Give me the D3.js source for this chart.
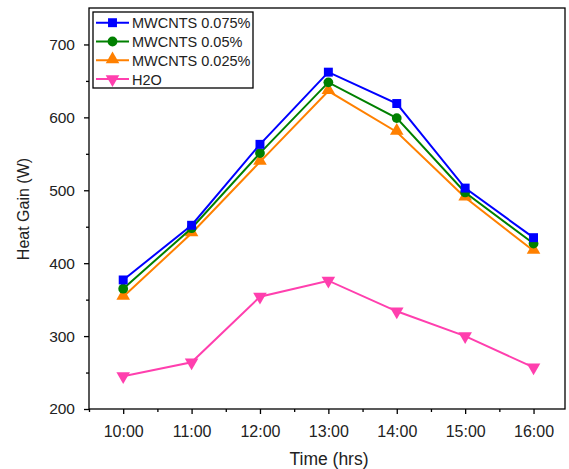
<!DOCTYPE html>
<html>
<head>
<meta charset="utf-8">
<script src="https://cdn.jsdelivr.net/npm/d3@7"></script>
<style>
	body { margin: 0; background: #fff; }
	text { font-family: Arial, "Liberation Sans", sans-serif; fill: #222; }
</style>
</head>
<body>
<div id="chart"></div>
<script>
var hours = [10, 11, 12, 13, 14, 15, 16];
var hourLabels = ["10:00", "11:00", "12:00", "13:00", "14:00", "15:00", "16:00"];
var yTicks = [200, 300, 400, 500, 600, 700];

var mw075 = [377, 452, 563, 662, 619, 503, 435];
var mw05 = [365, 448, 551, 648, 599, 497, 427];
var mw025 = [354, 441, 539, 636, 580, 490, 417];
var h2o = [245, 264, 354, 376, 334, 300, 257];

var seriesNames = ["MWCNTS 0.075%", "MWCNTS 0.05%", "MWCNTS 0.025%", "H2O"];
var seriesColors = ["#0000ff", "#008000", "#ff8000", "#ff3fae"];
var seriesValues = [mw075, mw05, mw025, h2o];

var W = 569, H = 469;
var plot = {left: 89, right: 565, top: 8, bottom: 409};

var svg = d3.select("#chart").append("svg")
	.attr("width", W)
	.attr("height", H);

var x = d3.scaleLinear().domain([9.5, 16.46]).range([plot.left, plot.right]);
var y = d3.scaleLinear().domain([200, 750]).range([plot.bottom, plot.top]);

// markers
var symbols = [
	d3.symbol().type(d3.symbolSquare).size(80),
	d3.symbol().type(d3.symbolCircle).size(75),
	d3.symbol().type(d3.symbolTriangle).size(80),
	d3.symbol().type(d3.symbolTriangle).size(80)
];
function markerTransform(i, px, py) {
	if (i == 3) return "translate(" + px + "," + py + ") rotate(180)";
	if (i == 2) return "translate(" + px + "," + (py - 1) + ")";
	return "translate(" + px + "," + py + ")";
}

var line = d3.line()
	.x(function(d, i) { return x(hours[i]); })
	.y(function(d) { return y(d); });

// draw series, bottom one first
for (var s = seriesValues.length - 1; s >= 0; s--) {
	svg.append("path")
	.datum(seriesValues[s])
	.attr("fill", "none")
	.attr("stroke", seriesColors[s])
	.attr("stroke-width", 2)
	.attr("d", line);

	(function(s) {
		svg.append("g").selectAll("path")
		.data(seriesValues[s])
		.enter().append("path")
		.attr("d", symbols[s])
		.attr("fill", seriesColors[s])
		.attr("transform", function(d, i) { return markerTransform(s, x(hours[i]), y(d)); });
	})(s);
}

// frame
svg.append("rect")
	.attr("x", plot.left).attr("y", plot.top)
	.attr("width", plot.right - plot.left).attr("height", plot.bottom - plot.top)
	.attr("fill", "none")
	.attr("stroke", "#000")
	.attr("stroke-width", 1.3);

// x axis
var xAxis = svg.append("g")
	.attr("transform", "translate(0," + plot.bottom + ")")
	.call(d3.axisBottom(x).tickValues(hours).tickSize(5).tickPadding(12)
		.tickFormat(function(d, i) { return hourLabels[i]; }));
xAxis.select(".domain").remove();
xAxis.selectAll("line").attr("stroke-width", 1.3);
xAxis.selectAll("text").style("font-size", "16px").attr("fill", "#222");

var xMinor = svg.append("g")
	.attr("transform", "translate(0," + plot.bottom + ")")
	.call(d3.axisBottom(x).tickValues([9.5, 10.5, 11.5, 12.5, 13.5, 14.5, 15.5]).tickSize(3).tickFormat(""));
xMinor.select(".domain").remove();
xMinor.selectAll("line").attr("stroke-width", 1.3);

// y axis
var yAxis = svg.append("g")
	.attr("transform", "translate(" + plot.left + ",0)")
	.call(d3.axisLeft(y).tickValues(yTicks).tickSize(5).tickPadding(9));
yAxis.select(".domain").remove();
yAxis.selectAll("line").attr("stroke-width", 1.3);
yAxis.selectAll("text").style("font-size", "15.5px").attr("fill", "#222");

var yMinor = svg.append("g")
	.attr("transform", "translate(" + plot.left + ",0)")
	.call(d3.axisLeft(y).tickValues([250, 350, 450, 550, 650]).tickSize(3).tickFormat(""));
yMinor.select(".domain").remove();
yMinor.selectAll("line").attr("stroke-width", 1.3);

// axis titles
svg.append("text")
	.attr("x", 329)
	.attr("y", 465)
	.attr("text-anchor", "middle")
	.style("font-size", "17.5px")
	.text("Time (hrs)");

svg.append("text")
	.attr("transform", "translate(28.5,209) rotate(-90)")
	.attr("text-anchor", "middle")
	.style("font-size", "16px")
	.text("Heat Gain (W)");

// legend
var legend = svg.append("g");
legend.append("rect")
	.attr("x", 93).attr("y", 12)
	.attr("width", 160).attr("height", 76)
	.attr("fill", "#fff")
	.attr("stroke", "#000")
	.attr("stroke-width", 1.3);

seriesNames.forEach(function(name, i) {
	var ly = 22.7 + i * 18.8;
	legend.append("line")
	.attr("x1", 96).attr("x2", 129)
	.attr("y1", ly).attr("y2", ly)
	.attr("stroke", seriesColors[i])
	.attr("stroke-width", 2);
	legend.append("path")
	.attr("d", symbols[i])
	.attr("fill", seriesColors[i])
	.attr("transform", markerTransform(i, 112.5, ly));
	legend.append("text")
	.attr("x", 132)
	.attr("y", ly + 5.5)
	.style("font-size", "14.5px")
	.text(name);
});
</script>
</body>
</html>
